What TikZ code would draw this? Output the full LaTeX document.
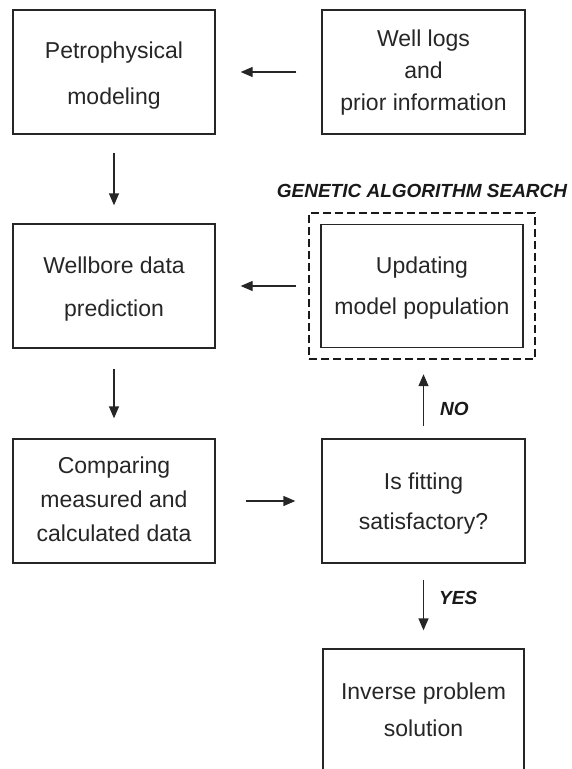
\documentclass[tikz,border=0pt]{standalone}
\usepackage{fontspec}
\setmainfont{Liberation Sans}
\usetikzlibrary{arrows.meta}
\newcommand{\boxlines}[2]{\raisebox{-3pt}{\fontsize{23}{#1}\selectfont\begin{tabular}{@{}c@{}}#2\end{tabular}}}
\begin{document}
\begin{tikzpicture}[x=1pt,y=-1pt,
  box/.style={draw=black!85, line width=1.3pt, minimum width=202pt, minimum height=124pt,
    inner sep=0pt, text=black!85},
  conn/.style={-{Triangle[length=12pt,width=10pt]}, line width=1.3pt, draw=black!85},
  gabox/.style={draw=black!90, line width=2.4pt, dash pattern=on 8pt off 4pt,
    minimum width=226pt, minimum height=146pt, inner sep=0pt},
  lbl/.style={font=\fontsize{19}{22}\selectfont\bfseries\itshape, text=black!90, inner sep=0pt}]
\useasboundingbox (0,0) rectangle (572,769);
\clip (0,0) rectangle (572,769);
\node[box] (petro) at (114,72) {\boxlines{46}{Petrophysical\\modeling}};
\node[box, minimum width=203pt] (well) at (423.5,72) {\boxlines{32}{Well logs\\and\\prior information}};
\node[box] (wellbore) at (114,286) {\boxlines{43}{Wellbore data\\prediction}};
\node[gabox] (ga) at (422,286) {};
\node[box, minimum height=123pt] (update) at (422,286) {\boxlines{41}{Updating\\model population}};
\node[lbl] (galbl) at ([yshift=21pt]ga.north) {GENETIC ALGORITHM SEARCH};
\node[box] (compare) at (114,501) {\boxlines{34}{Comparing\\measured and\\calculated data}};
\node[box, minimum width=203pt] (fit) at (423.5,501) {\boxlines{40}{Is fitting\\satisfactory?}};
\node[box, minimum width=201pt] (inverse) at (423.5,711) {\boxlines{37}{Inverse problem\\solution}};
\node[lbl, anchor=west] (no) at (440,409) {NO};
\node[lbl, anchor=west] (yes) at (439,598) {YES};
\draw[conn, shorten <=25pt, shorten >=25pt] (well.west) -- (petro.east);
\draw[conn, shorten <=18pt, shorten >=18pt] (petro.south) -- (wellbore.north);
\draw[conn, shorten <=24pt, shorten >=25pt] (update.west) -- (update.west -| wellbore.east);
\draw[conn, shorten <=20pt, shorten >=20pt] (wellbore.south) -- (compare.north);
\draw[conn, shorten <=30pt, shorten >=26pt] (compare.east) -- (fit.west);
\draw[conn, shorten <=12pt, shorten >=14pt] (fit.north) -- (fit.north |- ga.south);
\draw[conn, shorten <=16pt, shorten >=18pt] (fit.south) -- (inverse.north);
\end{tikzpicture}
\end{document}
